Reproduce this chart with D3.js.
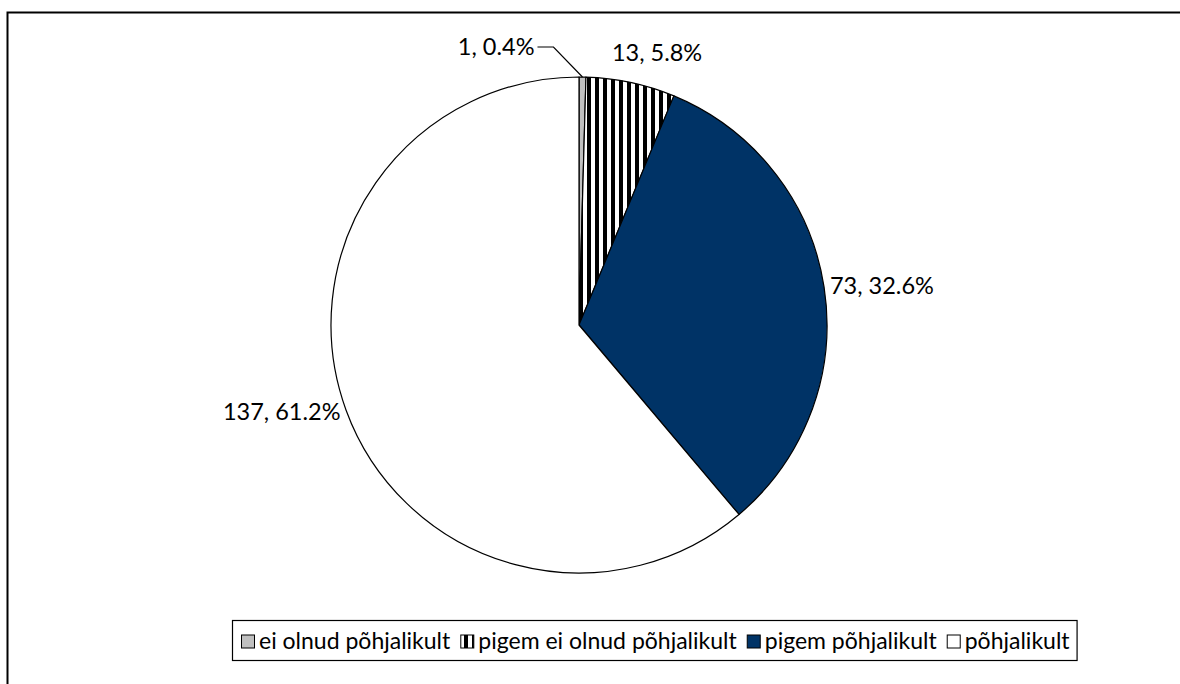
<!DOCTYPE html>
<html>
<head>
<meta charset="utf-8">
<script src="https://cdn.jsdelivr.net/npm/d3@7"></script>
<style>
  body { margin: 0; background: #fff; }
  text { font-family: Lato, "Open Sans", sans-serif; fill: #000; }
</style>
</head>
<body>
<div id="chart"></div>
<script>
// data
var categories = ["ei olnud põhjalikult", "pigem ei olnud põhjalikult", "pigem põhjalikult", "põhjalikult"];
var counts = [1, 13, 73, 137];
var percents = ["0.4%", "5.8%", "32.6%", "61.2%"];

var width = 1180, height = 684;
var cx = 579, cy = 325, radius = 248;
var fontSize = 23.5;

var svg = d3.select("#chart").append("svg")
  .attr("width", width)
  .attr("height", height);

// pattern for the striped slice
var defs = svg.append("defs");
var pat = defs.append("pattern")
  .attr("id", "stripes")
  .attr("patternUnits", "userSpaceOnUse")
  .attr("width", 8).attr("height", 8);
pat.append("rect").attr("width", 8).attr("height", 8).attr("fill", "#fff");
pat.append("rect").attr("width", 4).attr("height", 8).attr("fill", "#000");

var fills = ["#c0c0c0", "url(#stripes)", "#003366", "#ffffff"];

// outer frame (left + top only visible)
svg.append("path")
  .attr("d", "M7.5," + height + "V12.5H" + width)
  .attr("fill", "none").attr("stroke", "#000").attr("stroke-width", 2);

var data = categories.map(function (c, i) {
  return { name: c, value: counts[i], pct: percents[i], fill: fills[i] };
});

var pie = d3.pie().sort(null).value(function (d) { return d.value; });
var arc = d3.arc().innerRadius(0).outerRadius(radius);
var arcs = pie(data);

var g = svg.append("g").attr("transform", "translate(" + cx + "," + cy + ")");

g.selectAll("path.slice")
  .data(arcs)
  .enter().append("path")
  .attr("class", "slice")
  .attr("d", arc)
  .attr("fill", function (d) { return d.data.fill; })
  .attr("stroke", "#000")
  .attr("stroke-width", 1.2)
  .attr("stroke-linejoin", "round");

// labels
function mid(d) { return (d.startAngle + d.endAngle) / 2; }

arcs.forEach(function (d, i) {
  var a = mid(d);
  var txt = d.data.value + ", " + d.data.pct;
  if (i === 0) {
    // small slice: leader line to the left
    var p0 = [radius * Math.sin(a), -radius * Math.cos(a)];
    var p1 = [p0[0] - 29, p0[1] - 30];
    var p2 = [p1[0] - 16, p1[1]];
    g.append("polyline")
      .attr("points", [p0, p1, p2].map(function (p) { return p.join(","); }).join(" "))
      .attr("fill", "none").attr("stroke", "#000").attr("stroke-width", 1.2);
    g.append("text")
      .attr("x", p2[0] - 3).attr("y", p2[1])
      .attr("dy", "0.35em")
      .attr("text-anchor", "end")
      .attr("font-size", fontSize)
      .text(txt);
    return;
  }
  var s = Math.sin(a), c = Math.cos(a);
  var anchor = s > 0.3 ? "start" : (s < -0.3 ? "end" : "middle");
  var r = anchor === "middle" ? radius + 30 : radius + 6;
  var dx = anchor === "middle" ? 20 : 0;
  g.append("text")
    .attr("x", r * s + dx).attr("y", -r * c)
    .attr("dy", "0.35em")
    .attr("text-anchor", anchor)
    .attr("font-size", fontSize)
    .text(txt);
});

// legend
var legend = svg.append("g").attr("transform", "translate(0,641)");
var lx = 241, box = 13;
var items = legend.selectAll("g.item")
  .data(data)
  .enter().append("g")
  .attr("class", "item");

items.each(function (d) {
  var it = d3.select(this);
  it.append("rect")
    .attr("x", lx + 0.5).attr("y", -box / 2 + 0.5)
    .attr("width", box).attr("height", box)
    .attr("fill", d.fill)
    .attr("stroke", "#000").attr("stroke-width", 1);
  var t = it.append("text")
    .attr("x", lx + box + 5).attr("y", 0)
    .attr("dy", "0.35em")
    .attr("font-size", 23)
    .text(d.name);
  lx += box + 5 + t.node().getComputedTextLength() + 10;
});

legend.insert("rect", ":first-child")
  .attr("x", 232.5).attr("y", -20.5)
  .attr("width", lx - 232 - 3).attr("height", 40)
  .attr("fill", "#fff")
  .attr("stroke", "#000").attr("stroke-width", 1.2);
</script>
</body>
</html>
